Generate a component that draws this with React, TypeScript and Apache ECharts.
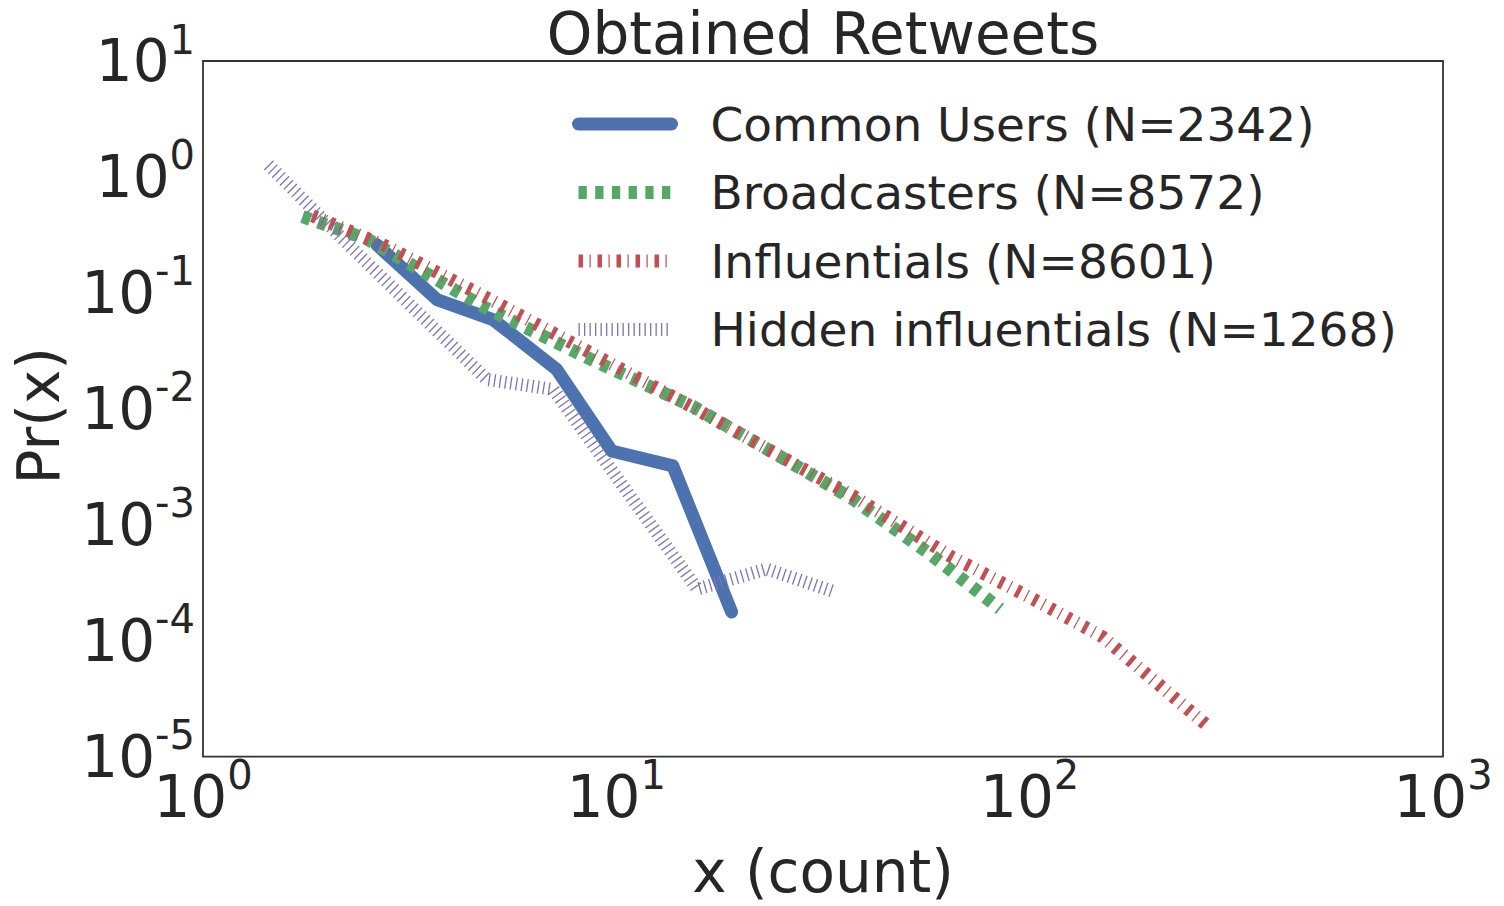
import { useEffect, useRef } from 'react';
import * as echarts from 'echarts';

const FONT = "'DejaVu Sans', 'Noto Sans', sans-serif";
const TEXT = '#262626';

const titleText = 'Obtained Retweets';
const xAxisName = 'x (count)';
const yAxisName = 'Pr(x)';

const seriesNames = [
  'Common Users (N=2342)',
  'Broadcasters (N=8572)',
  'Influentials (N=8601)',
  'Hidden influentials (N=1268)',
];
const seriesColors = ['#4C72B0', '#55A868', '#C44E52', '#8172B2'];

// Common Users
const commonX = [2.63, 3.68, 5.03, 7.17, 9.74, 13.7, 19.0];
const commonY = [0.261, 0.0876, 0.0589, 0.0219, 0.00433, 0.00322, 0.000177];

// Broadcasters
const broadX = [1.74, 2.51, 4.76, 8.49, 15.3, 26.8, 37.4, 57.4, 84.8];
const broadY = [0.454, 0.288, 0.0762, 0.0277, 0.0105, 0.00333, 0.00166, 0.000559, 0.000188];

// Influentials
const inflX = [1.84, 2.79, 4.95, 8.64, 15.3, 27.8, 37.4, 64.2, 104, 150, 269];
const inflY = [0.463, 0.25, 0.0876, 0.0306, 0.0103, 0.00314, 0.00177, 0.000537, 0.00022, 0.000108, 0.0000185];

// Hidden influentials
const hiddenX = [1.44, 2.15, 3.2, 4.86, 7.04, 15.7, 23.1, 33.8];
const hiddenY = [1.27, 0.305, 0.0762, 0.0179, 0.0147, 0.000279, 0.000415, 0.000263];

// axis ranges (powers of ten)
const xMinExp = 0;
const xMaxExp = 3;
const yMinExp = -5;
const yMaxExp = 1;

const zip = (xs: number[], ys: number[]) => xs.map((x, i) => [x, ys[i]]);

const lineStyles: any[] = [
  { width: 13, type: 'solid', cap: 'round', join: 'round' },
  { width: 13, type: [8.3, 8.4], cap: 'butt', join: 'miter' },
  { width: 13, type: [4.5, 6.5, 1.2, 6.8], cap: 'butt', join: 'miter' },
  { width: 13, type: [1.3, 4.2], cap: 'butt', join: 'miter' },
];

const seriesData = [
  zip(commonX, commonY),
  zip(broadX, broadY),
  zip(inflX, inflY),
  zip(hiddenX, hiddenY),
];

const expLabel = (v: number) => {
  const e = Math.round(Math.log10(v));
  return `{b|10}{s|${e < 0 ? '-' : ''}${Math.abs(e)}}`;
};

const rich = {
  b: { fontSize: 58, lineHeight: 58, fontFamily: FONT, color: TEXT },
  s: { fontSize: 40, lineHeight: 16, padding: [0, 0, 43, 0], fontFamily: FONT, color: TEXT },
};

export default function App() {
  const ref = useRef<HTMLDivElement>(null);
  useEffect(() => {
    document.body.style.margin = '0';
    const chart = echarts.init(ref.current!, null, { renderer: 'svg' });
    const option: any = {
      animation: false,
      backgroundColor: '#ffffff',
      title: {
        show: false,
      },
      graphic: [
        {
          type: 'text',
          x: 823,
          y: 34,
          style: {
            text: titleText,
            align: 'center',
            verticalAlign: 'middle',
            fontSize: 58,
            fontFamily: FONT,
            fill: TEXT,
          },
        },
      ],
      grid: {
        left: 203,
        top: 61,
        right: 61,
        bottom: 148,
        show: true,
        borderColor: '#333333',
        borderWidth: 1.8,
        backgroundColor: '#ffffff',
        containLabel: false,
      },
      legend: {
        orient: 'vertical',
        left: 572,
        top: 99,
        padding: 0,
        itemWidth: 93,
        itemHeight: 13,
        itemGap: 18.5,
        selectedMode: false,
        data: seriesNames.map((n, i) => ({
          name: n,
          lineStyle: { ...lineStyles[i], color: seriesColors[i] },
          itemStyle: { color: 'rgba(0,0,0,0)', borderWidth: 0, opacity: 0 },
        })),
        lineStyle: { width: 13 },
        itemStyle: { color: 'rgba(0,0,0,0)', borderWidth: 0, opacity: 0 },
        textStyle: {
          fontSize: 47,
          lineHeight: 50,
          fontFamily: FONT,
          color: TEXT,
          padding: [0, 0, 0, 34],
        },
      },
      xAxis: {
        type: 'log',
        logBase: 10,
        min: Math.pow(10, xMinExp),
        max: Math.pow(10, xMaxExp),
        splitNumber: xMaxExp - xMinExp,
        name: xAxisName,
        nameLocation: 'middle',
        nameGap: 75,
        nameTextStyle: { fontSize: 58, fontFamily: FONT, color: TEXT },
        axisLine: { show: false },
        axisTick: { show: false },
        splitLine: { show: false },
        axisLabel: {
          margin: 11,
          showMinLabel: true,
          showMaxLabel: true,
          hideOverlap: false,
          formatter: expLabel,
          rich,
        },
      },
      yAxis: {
        type: 'log',
        logBase: 10,
        min: Math.pow(10, yMinExp),
        max: Math.pow(10, yMaxExp),
        splitNumber: yMaxExp - yMinExp,
        name: yAxisName,
        nameLocation: 'middle',
        nameGap: 135,
        nameTextStyle: { fontSize: 58, fontFamily: FONT, color: TEXT, padding: [0, 14, 0, 0] },
        axisLine: { show: false },
        axisTick: { show: false },
        splitLine: { show: false },
        axisLabel: {
          margin: 8,
          showMinLabel: true,
          showMaxLabel: true,
          hideOverlap: false,
          formatter: expLabel,
          rich,
        },
      },
      series: seriesNames.map((n, i) => ({
        name: n,
        type: 'line',
        data: seriesData[i],
        symbol: 'none',
        showSymbol: false,
        color: seriesColors[i],
        lineStyle: { ...lineStyles[i], color: seriesColors[i] },
        emphasis: { disabled: true },
      })),
    };
    chart.setOption(option);
    return () => chart.dispose();
  }, []);
  return <div ref={ref} style={{ width: 1504, height: 906 }} />;
}
